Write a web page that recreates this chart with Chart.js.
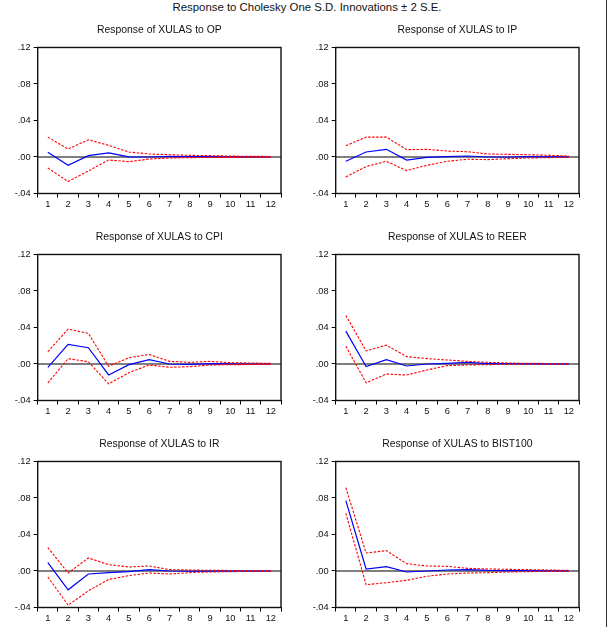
<!DOCTYPE html>
<html lang="en">
<head>
  <meta charset="UTF-8" />
  <title>Response to Cholesky One S.D. Innovations</title>
  <script src="https://cdn.jsdelivr.net/npm/chart.js"></script>
  <style>
    body {
      margin: 0;
      background: #fff;
      font-family: 'Liberation Sans', Arial, sans-serif;
    }
    #page {
      position: relative;
      width: 609px;
      height: 627px;
      overflow: hidden;
    }
    #mainTitle {
      position: absolute;
      top: 1px;
      left: 0;
      width: 614px;
      text-align: center;
      font-size: 11.4px;
      line-height: 13px;
      color: #111;
    }
    #edge {
      position: absolute;
      left: 606px;
      top: 0;
      width: 1px;
      height: 627px;
      background: #333;
    }
    .panel {
      position: absolute;
      width: 300px;
      height: 207px;
    }
  </style>
</head>
<body>
  <div id="page">
    <div id="mainTitle">Response to Cholesky One S.D. Innovations ± 2 S.E.</div>
    <div id="edge"></div>
  </div>

  <script>
    // Perioden und Achsenwerte
    const periods = ['1', '2', '3', '4', '5', '6', '7', '8', '9', '10', '11', '12'];
    const yTicks = [-0.04, 0.00, 0.04, 0.08, 0.12];

    // Response of XULAS to OP
    const opResp  = [0.0051, -0.0091, 0.0015, 0.0044, 0.0001, 0.0000, 0.0007, 0.0005, 0.0003, 0.0002, 0.0001, 0.0000];
    const opUpper = [0.0218, 0.0087, 0.0189, 0.0127, 0.0055, 0.0033, 0.0025, 0.0018, 0.0015, 0.0010, 0.0007, 0.0006];
    const opLower = [-0.0120, -0.0269, -0.0153, -0.0033, -0.0051, -0.0022, -0.0011, -0.0007, -0.0005, -0.0004, -0.0003, -0.0002];

    // Response of XULAS to IP
    const ipResp  = [-0.0047, 0.0055, 0.0084, -0.0033, -0.0004, 0.0004, 0.0011, 0.0000, 0.0000, 0.0003, 0.0002, 0.0002];
    const ipUpper = [0.0124, 0.0218, 0.0218, 0.0080, 0.0084, 0.0065, 0.0058, 0.0033, 0.0029, 0.0025, 0.0018, 0.0011];
    const ipLower = [-0.0218, -0.0105, -0.0047, -0.0149, -0.0091, -0.0047, -0.0025, -0.0029, -0.0018, -0.0011, -0.0007, -0.0004];

    // Response of XULAS to CPI
    const cpiResp  = [-0.0036, 0.0215, 0.0178, -0.0120, -0.0007, 0.0047, 0.0000, -0.0004, 0.0004, 0.0001, 0.0000, 0.0000];
    const cpiUpper = [0.0135, 0.0382, 0.0335, -0.0025, 0.0069, 0.0105, 0.0029, 0.0018, 0.0029, 0.0015, 0.0011, 0.0007];
    const cpiLower = [-0.0207, 0.0058, 0.0025, -0.0218, -0.0095, -0.0011, -0.0036, -0.0029, -0.0011, -0.0007, -0.0006, -0.0004];

    // Response of XULAS to REER
    const reerResp  = [0.0360, -0.0029, 0.0048, -0.0022, 0.0000, 0.0007, 0.0018, 0.0004, 0.0003, 0.0002, 0.0001, 0.0001];
    const reerUpper = [0.0532, 0.0143, 0.0206, 0.0081, 0.0059, 0.0044, 0.0029, 0.0018, 0.0011, 0.0007, 0.0006, 0.0004];
    const reerLower = [0.0194, -0.0206, -0.0110, -0.0121, -0.0066, -0.0018, -0.0011, -0.0007, -0.0004, -0.0003, -0.0003, -0.0002];

    // Response of XULAS to IR
    const irResp  = [0.0092, -0.0206, -0.0033, -0.0018, -0.0007, 0.0015, 0.0000, -0.0003, -0.0002, -0.0001, 0.0000, 0.0000];
    const irUpper = [0.0257, -0.0022, 0.0143, 0.0070, 0.0044, 0.0055, 0.0015, 0.0011, 0.0007, 0.0006, 0.0005, 0.0004];
    const irLower = [-0.0066, -0.0374, -0.0217, -0.0092, -0.0051, -0.0022, -0.0033, -0.0018, -0.0011, -0.0007, -0.0005, -0.0004];

    // Response of XULAS to BIST100
    const bistResp  = [0.0771, 0.0022, 0.0047, -0.0011, 0.0000, 0.0011, 0.0015, 0.0007, 0.0004, 0.0003, 0.0002, 0.0002];
    const bistUpper = [0.0913, 0.0197, 0.0223, 0.0080, 0.0055, 0.0051, 0.0029, 0.0022, 0.0018, 0.0015, 0.0011, 0.0007];
    const bistLower = [0.0632, -0.0150, -0.0128, -0.0102, -0.0058, -0.0033, -0.0022, -0.0018, -0.0011, -0.0007, -0.0004, -0.0004];

    const panels = [
      { title: 'Response of XULAS to OP', resp: opResp, upper: opUpper, lower: opLower },
      { title: 'Response of XULAS to IP', resp: ipResp, upper: ipUpper, lower: ipLower },
      { title: 'Response of XULAS to CPI', resp: cpiResp, upper: cpiUpper, lower: cpiLower },
      { title: 'Response of XULAS to REER', resp: reerResp, upper: reerUpper, lower: reerLower },
      { title: 'Response of XULAS to IR', resp: irResp, upper: irUpper, lower: irLower },
      { title: 'Response of XULAS to BIST100', resp: bistResp, upper: bistUpper, lower: bistLower }
    ];

    const FONT = "'Liberation Sans', Arial, sans-serif";

    // Rahmen um die Plotfläche und Nulllinie
    const framePlugin = {
      id: 'frame',
      beforeDatasetsDraw(chart) {
        const { ctx, chartArea: a, scales } = chart;
        const y0 = scales.y.getPixelForValue(0);
        ctx.save();
        ctx.strokeStyle = '#000';
        ctx.lineWidth = 1.2;
        ctx.beginPath();
        ctx.moveTo(a.left, y0);
        ctx.lineTo(a.right, y0);
        ctx.stroke();
        ctx.restore();
      },
      afterDatasetsDraw(chart) {
        const { ctx, chartArea: a } = chart;
        ctx.save();
        ctx.strokeStyle = '#111';
        ctx.lineWidth = 1.4;
        ctx.strokeRect(a.left, a.top, a.right - a.left, a.bottom - a.top);
        ctx.restore();
      }
    };

    function fmtTick(v) {
      const r = Math.round(v * 100) / 100;
      const s = Math.abs(r).toFixed(2).replace(/^0/, '');
      return (r < 0 ? '-' : '') + s;
    }

    const page = document.getElementById('page');

    panels.forEach((p, i) => {
      const col = i % 2;
      const row = Math.floor(i / 2);
      const div = document.createElement('div');
      div.className = 'panel';
      div.style.left = (col * 298) + 'px';
      div.style.top = (row * 207) + 'px';
      const canvas = document.createElement('canvas');
      canvas.width = 300;
      canvas.height = 207;
      div.appendChild(canvas);
      page.appendChild(div);

      new Chart(canvas.getContext('2d'), {
        type: 'line',
        data: {
          labels: periods,
          datasets: [
            {
              data: p.upper,
              borderColor: '#ff0000',
              borderWidth: 1.1,
              borderDash: [2.5, 1.5],
              pointRadius: 0,
              tension: 0,
              fill: false
            },
            {
              data: p.lower,
              borderColor: '#ff0000',
              borderWidth: 1.1,
              borderDash: [2.5, 1.5],
              pointRadius: 0,
              tension: 0,
              fill: false
            },
            {
              data: p.resp,
              borderColor: '#0000ff',
              borderWidth: 1.2,
              pointRadius: 0,
              tension: 0,
              fill: false
            }
          ]
        },
        options: {
          responsive: false,
          animation: false,
          devicePixelRatio: 1,
          layout: { padding: { top: 24, right: 19, bottom: 0, left: 0 } },
          plugins: {
            legend: { display: false },
            tooltip: { enabled: false },
            title: {
              display: true,
              fullSize: false,
              text: p.title,
              color: '#111',
              font: { family: FONT, size: 10.4, weight: 'normal' },
              padding: { top: 0, bottom: 11 }
            }
          },
          scales: {
            x: {
              offset: true,
              grid: {
                offset: true,
                drawOnChartArea: false,
                tickLength: 4,
                tickColor: '#000',
                tickWidth: 1
              },
              border: { display: true, color: '#000', width: 1 },
              ticks: {
                color: '#111',
                font: { family: FONT, size: 9.3 },
                padding: 1,
                maxRotation: 0,
                autoSkip: false
              },
              afterFit: s => { s.height = 13.5; }
            },
            y: {
              min: yTicks[0],
              max: yTicks[yTicks.length - 1],
              afterBuildTicks: s => { s.ticks = yTicks.map(v => ({ value: v })); },
              grid: {
                drawOnChartArea: false,
                tickLength: 4,
                tickColor: '#000',
                tickWidth: 1
              },
              border: { display: true, color: '#000', width: 1 },
              ticks: {
                color: '#111',
                font: { family: FONT, size: 9.3 },
                padding: 3,
                callback: v => fmtTick(v)
              },
              afterFit: s => { s.width = 37.7; }
            }
          }
        },
        plugins: [framePlugin]
      });
    });
  </script>
</body>
</html>
